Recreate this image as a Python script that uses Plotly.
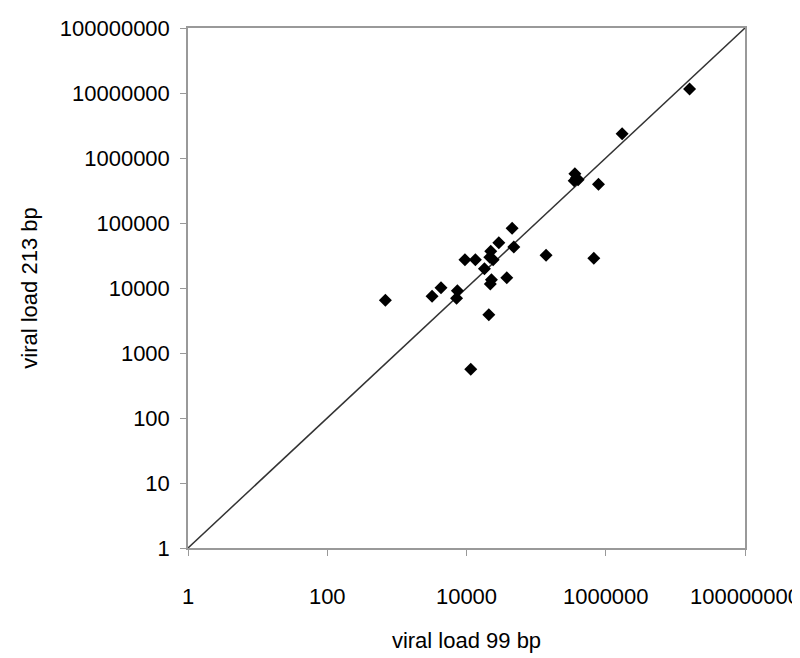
import plotly.graph_objects as go

# viral load measured with the 99 bp and 213 bp amplicons
load_99bp = [684, 3200, 4300, 7400, 7200, 9500, 13400, 18100, 22300, 21600,
             24100, 29100, 45200, 47800, 22800, 22000, 37900, 20900, 139000, 674000,
             11500, 1720000, 360000, 379000, 401000, 352000, 786000, 16000000]
load_213bp = [6470, 7450, 10100, 9090, 6950, 27200, 27200, 19800, 36700, 29700,
              27200, 49800, 82800, 42700, 13400, 11500, 14400, 3880, 31800, 28600,
              561, 2370000, 573000, 492000, 463000, 448000, 394000, 11500000]

# line of equality
line_x = [1, 100000000]
line_y = [1, 100000000]

y_ticks = [1, 10, 100, 1000, 10000, 100000, 1000000, 10000000, 100000000]
x_ticks = [1, 100, 10000, 1000000, 100000000]

font_name = "Liberation Sans, Arial, sans-serif"

fig = go.Figure()
fig.add_trace(go.Scatter(x=line_x, y=line_y, mode="lines",
                         line=dict(color="#333333", width=1.5),
                         hoverinfo="skip", showlegend=False))
fig.add_trace(go.Scatter(x=load_99bp, y=load_213bp, mode="markers",
                         marker=dict(symbol="diamond", size=10, color="black"),
                         showlegend=False))

fig.update_xaxes(type="log", range=[0, 8],
                 tickvals=x_ticks, ticktext=[str(v) for v in x_ticks],
                 ticks="outside", ticklen=6, tickcolor="#999999",
                 ticklabelstandoff=22,
                 showline=True, linecolor="#999999", linewidth=1.5, mirror=True,
                 showgrid=False, zeroline=False,
                 title=dict(text="viral load 99 bp", standoff=24,
                            font=dict(size=22, color="black")),
                 tickfont=dict(size=22, color="black"))
fig.update_yaxes(type="log", range=[0, 8],
                 tickvals=y_ticks, ticktext=[str(v) for v in y_ticks],
                 ticks="outside", ticklen=6, tickcolor="#999999",
                 ticklabelstandoff=6,
                 showline=True, linecolor="#999999", linewidth=1.5, mirror=True,
                 showgrid=False, zeroline=False,
                 title=dict(text="viral load 213 bp", standoff=16,
                            font=dict(size=22, color="black")),
                 tickfont=dict(size=22, color="black"))

fig.update_layout(width=800, height=658,
                  margin=dict(l=180, r=63, t=20, b=118, autoexpand=False),
                  font=dict(family=font_name, color="black"),
                  plot_bgcolor="white", paper_bgcolor="white")

fig.write_html("out.html")
